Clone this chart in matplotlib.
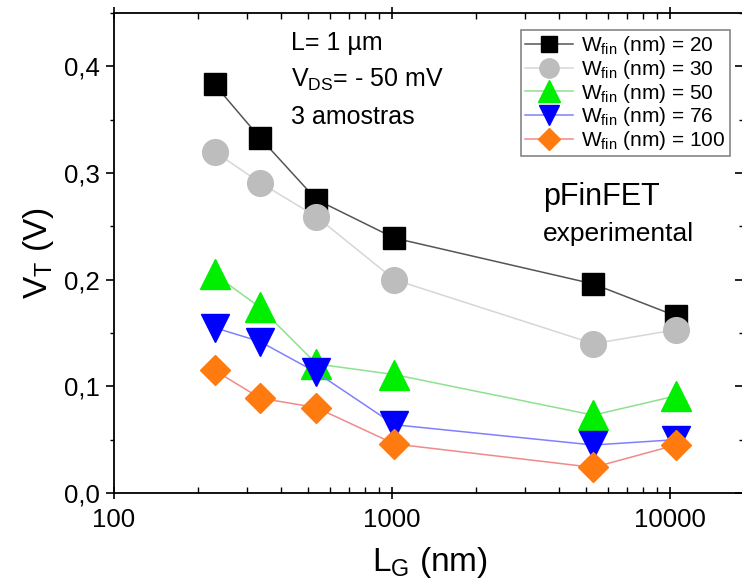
import numpy as np
import matplotlib
matplotlib.use("Agg")
import matplotlib.pyplot as plt
from matplotlib.ticker import FuncFormatter, MultipleLocator, LogLocator, NullFormatter

# gate length (nm) and threshold voltage (V)
lg = [230, 335, 535, 1020, 5300, 10500]
vt_20 = [0.383, 0.333, 0.275, 0.239, 0.196, 0.166]
vt_30 = [0.320, 0.291, 0.259, 0.200, 0.140, 0.153]
vt_50 = [0.205, 0.174, 0.121, 0.111, 0.073, 0.091]
vt_76 = [0.155, 0.142, 0.113, 0.064, 0.045, 0.050]
vt_100 = [0.115, 0.089, 0.080, 0.046, 0.024, 0.045]
wfin = ["20", "30", "50", "76", "100"]

plt.rcParams['font.family'] = ['Liberation Sans', 'DejaVu Sans']
plt.rcParams['mathtext.fontset'] = 'custom'
plt.rcParams['mathtext.rm'] = 'Liberation Sans'
plt.rcParams['mathtext.it'] = 'Liberation Sans'

fig = plt.figure(figsize=(7.42, 5.85), dpi=100)
ax = fig.add_axes([114/742, 92/585, 631/742, 480/585])

series = [
    (vt_20, 's', 'black', '#555555', 16),
    (vt_30, 'o', '#bdbdbd', '#d6d6d6', 18.5),
    (vt_50, '^', '#00ee00', '#8fe08f', 21),
    (vt_76, 'v', '#0000ff', '#8080ff', 20),
    (vt_100, 'D', '#ff7b10', '#f08a8a', 15.5),
]
for (vals, mk, mc, lc, ms), w in zip(series, wfin):
    ax.plot(lg, vals, color=lc, lw=1.1, marker=mk, ms=ms,
            markerfacecolor=mc, markeredgecolor=mc,
            label=r'W$_{\mathrm{fin}}$ (nm) = ' + w)

ax.set_xscale('log')
ax.set_xlim(100, 10 ** (2 + 631 / 278))
ax.set_ylim(0, 0.45)
ax.set_xticks([100, 1000, 10000])
ax.xaxis.set_major_formatter(FuncFormatter(lambda v, p: f"{int(round(v))}"))
ax.xaxis.set_minor_locator(LogLocator(base=10, subs=np.arange(2, 10)))
ax.xaxis.set_minor_formatter(NullFormatter())
ax.yaxis.set_major_locator(MultipleLocator(0.1))
ax.yaxis.set_minor_locator(MultipleLocator(0.05))
ax.yaxis.set_major_formatter(FuncFormatter(lambda v, p: f"{v:.1f}".replace('.', ',')))

ax.tick_params(axis='x', which='major', direction='inout', length=8, width=1.2,
               top=True, labelsize=18.5, pad=7)
ax.tick_params(axis='x', which='minor', direction='in', length=4, width=1.0, top=True)
ax.tick_params(axis='y', which='major', direction='out', length=6, width=1.2,
               labelsize=18.5, pad=4)
ax.tick_params(axis='y', which='minor', direction='out', length=3, width=1.0)
for s in ax.spines.values():
    s.set_linewidth(1.3)

sec = ax.secondary_yaxis('right')
sec.yaxis.set_major_locator(MultipleLocator(0.1))
sec.yaxis.set_minor_locator(MultipleLocator(0.05))
sec.tick_params(which='major', direction='in', length=7, width=1.2, labelright=False)
sec.tick_params(which='minor', direction='in', length=4, width=1.0)

ax.set_xlabel(r'L$_{\mathrm{G}}$ (nm)', fontsize=24, labelpad=9)
ax.set_ylabel(r'V$_{\mathrm{T}}$ (V)', fontsize=24, labelpad=6)

ax.text(0.28, 0.938, 'L= 1 µm', transform=ax.transAxes, fontsize=18, va='center')
ax.text(0.28, 0.86, r'V$_{\mathrm{DS}}$= - 50 mV', transform=ax.transAxes,
        fontsize=18, va='center')
ax.text(0.28, 0.783, '3 amostras', transform=ax.transAxes, fontsize=18, va='center')
ax.text(0.68, 0.617, 'pFinFET', transform=ax.transAxes, fontsize=22, va='center')
ax.text(0.68, 0.54, 'experimental', transform=ax.transAxes, fontsize=19, va='center')

leg = ax.legend(loc='upper right', bbox_to_anchor=(0.976, 0.965), borderaxespad=0,
                fontsize=15, handlelength=2.3, handletextpad=0.4, labelspacing=0.04,
                frameon=True, fancybox=False, edgecolor='#666666', borderpad=0.2,
                markerscale=0.75)
leg.get_frame().set_linewidth(1.2)

fig.savefig('out.png', dpi=100)
